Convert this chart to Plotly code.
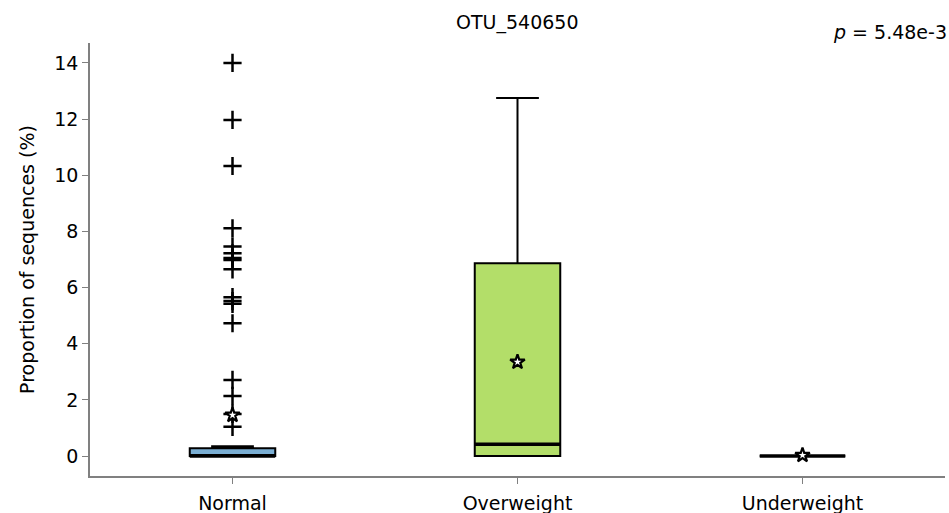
import plotly.graph_objects as go

categories = ["Normal", "Overweight", "Underweight"]
q1 = [0.0, 0.0, 0.0]
median = [0.0, 0.42, 0.0]
q3 = [0.28, 6.87, 0.0]
lowerfence = [0.0, 0.0, 0.0]
upperfence = [0.35, 12.75, 0.0]
means = [1.46, 3.35, 0.03]
box_colors = ["#7BAFD4", "#B3DE69", "#80B1D3"]
normal_outliers = [14.0, 11.97, 10.33, 8.11, 7.46, 7.22, 7.05, 6.98, 6.65,
                   5.66, 5.52, 5.42, 4.73, 2.71, 2.14, 1.5, 1.04]
outliers = [normal_outliers, [], []]
title_text = "OTU_540650"
pvalue_text = "<i>p</i> = 5.48e-3"

FS = 19
BOX_W = 0.3
fig = go.Figure()
for i, cat in enumerate(categories):
    fig.add_trace(go.Box(
        x=[i], q1=[q1[i]], median=[median[i]], q3=[q3[i]],
        lowerfence=[lowerfence[i]], upperfence=[upperfence[i]],
        width=BOX_W, whiskerwidth=0.5, boxpoints=False,
        fillcolor=box_colors[i], line=dict(color="black", width=2),
        showlegend=False, hoverinfo="skip"))
    fig.add_trace(go.Scatter(
        x=[i - BOX_W / 2, i + BOX_W / 2], y=[median[i], median[i]],
        mode="lines", line=dict(color="black", width=3.5),
        showlegend=False, hoverinfo="skip"))
    if outliers[i]:
        fig.add_trace(go.Scatter(
            x=[i] * len(outliers[i]), y=outliers[i], mode="markers",
            marker=dict(symbol="cross-thin", size=13, line=dict(color="black", width=2.5)),
            showlegend=False, hoverinfo="skip"))

fig.add_trace(go.Scatter(
    x=list(range(len(categories))), y=means, mode="markers",
    marker=dict(symbol="star", size=11, color="white", line=dict(color="black", width=2.2)),
    showlegend=False, hoverinfo="skip"))

fig.update_layout(
    width=949, height=513,
    margin=dict(l=90, r=4, t=43, b=37),
    plot_bgcolor="white", paper_bgcolor="white",
    font=dict(family="DejaVu Sans", size=FS, color="black"),
    xaxis=dict(range=[-0.5, 2.5], tickvals=list(range(len(categories))), ticktext=categories,
               showgrid=False, zeroline=False, showline=True, linecolor="#808080", linewidth=1.5,
               ticks="outside", ticklen=6, tickcolor="#808080", tickfont=dict(size=FS),
               ticklabelstandoff=3, automargin=False),
    yaxis=dict(range=[-0.71, 14.71], tickvals=[0, 2, 4, 6, 8, 10, 12, 14],
               showgrid=False, zeroline=False, showline=True, linecolor="#808080", linewidth=1.5,
               ticks="outside", ticklen=6, tickcolor="#808080", tickfont=dict(size=FS),
               automargin=False,
               title=dict(text="Proportion of sequences (%)", font=dict(size=FS), standoff=15)),
    annotations=[
        dict(text=title_text, x=0.5, y=1, xref="paper", yref="paper", xanchor="center",
             yanchor="bottom", yshift=7, showarrow=False, font=dict(size=FS)),
        dict(text=pvalue_text, x=1, y=1, xref="paper", yref="paper", xanchor="right",
             yanchor="bottom", yshift=-2, xshift=4, showarrow=False, font=dict(size=FS)),
    ],
)
fig.write_html("out.html")
